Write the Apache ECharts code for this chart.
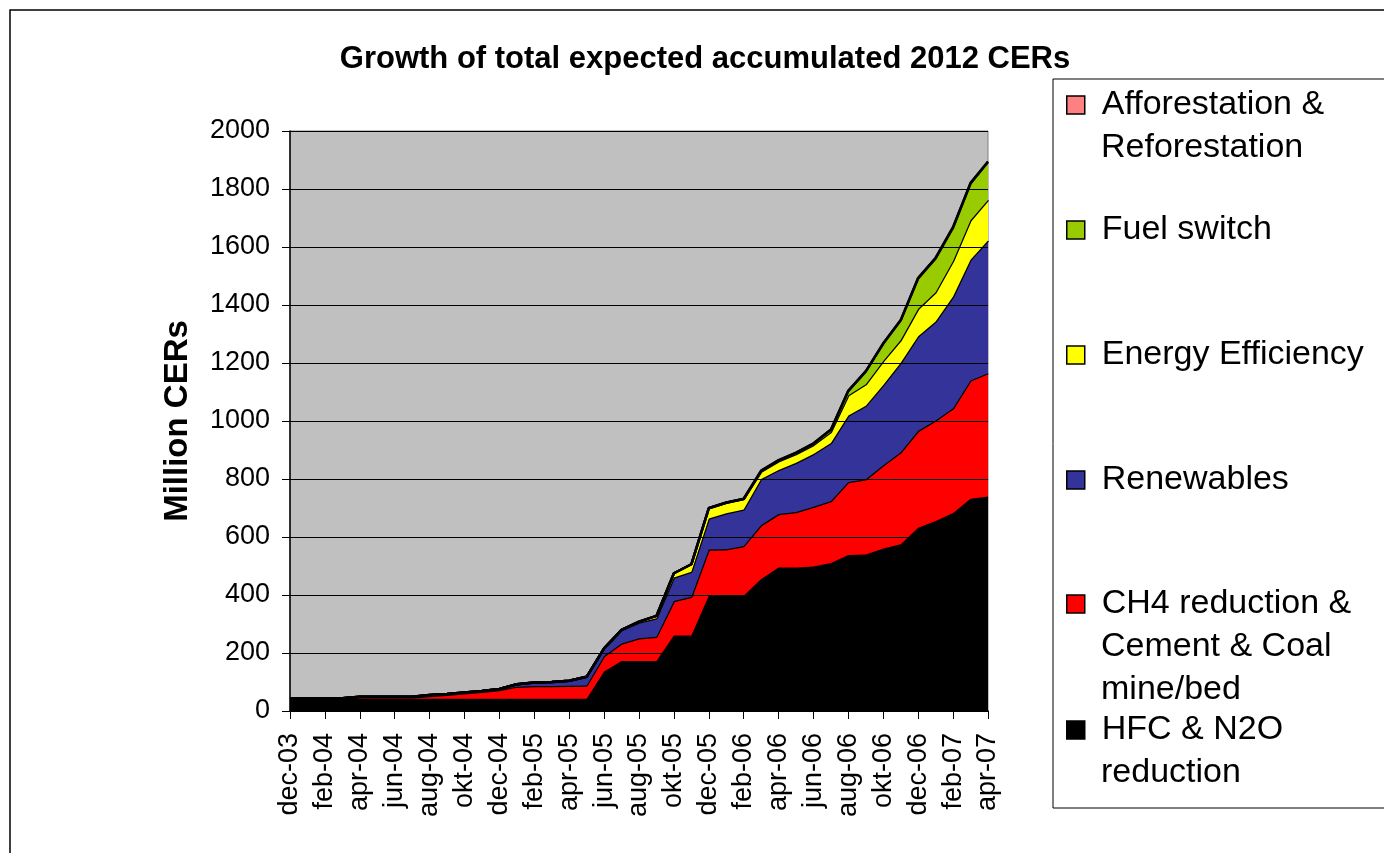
<!DOCTYPE html>
<html>
<head>
<meta charset="utf-8">
<script src="https://cdn.jsdelivr.net/npm/echarts@6/dist/echarts.min.js"></script>
<style>
html,body{margin:0;padding:0;background:#fff;}
#c{width:1384px;height:853px;}
</style>
</head>
<body>
<div id="c"></div>
<script>
var categories = ['dec-03','jan-04','feb-04','mar-04','apr-04','maj-04','jun-04','jul-04','aug-04','sep-04','okt-04','nov-04',
  'dec-04','jan-05','feb-05','mar-05','apr-05','maj-05','jun-05','jul-05','aug-05','sep-05','okt-05','nov-05',
  'dec-05','jan-06','feb-06','mar-06','apr-06','maj-06','jun-06','jul-06','aug-06','sep-06','okt-06','nov-06',
  'dec-06','jan-07','feb-07','mar-07','apr-07'];

var hfcN2o = [42,42,42,42,42,42,42,42,42,42,42,42,42,42,42,42,42,42,136,172,172,172,260,260,397,397,397,455,495,495,498,510,538,540,560,575,632,655,683,732,740];
var ch4Cement = [2,2,2,2,5,5,5,5,10,14,19,24,30,42,44,44,45,46,54,61,79,84,119,134,160,161,172,186,184,191,206,214,252,259,287,317,334,347,361,408,425];
var renewables = [0,0,0,0,2,2,2,2,3,3,3,3,4,8,12,14,17,30,26,46,54,64,81,86,107,124,126,159,152,170,182,200,229,254,277,309,326,341,385,416,457];
var energyEff = [0,0,0,0,0,0,0,0,0,0,0,0,0,0,0,0,0,0,0,1,3,8,15,26,35,36,36,25,30,30,31,38,70,74,83,78,95,101,123,136,140];
var fuelSwitch = [0,0,0,0,0,0,0,0,0,0,0,0,0,0,0,0,0,0,0,0,0,0,0,0,0,0,0,3,3,4,5,8,15,44,60,68,105,117,115,127,131];
var afforest = [0,0,0,0,0,0,0,0,0,0,0,0,0,0,0,0,0,0,0,0,0,0,0,0,1,1,1,1,1,1,1,1,1,1,1,1,2,2,2,2,2];

var yTicks = [0,200,400,600,800,1000,1200,1400,1600,1800,2000];

var seriesNames = ['HFC & N2O reduction','CH4 reduction & Cement & Coal mine/bed','Renewables','Energy Efficiency','Fuel switch','Afforestation & Reforestation'];
var seriesColors = ['#000000','#FF0000','#333399','#FFFF00','#99CC00','#FF8080'];
var seriesData = [hfcN2o, ch4Cement, renewables, energyEff, fuelSwitch, afforest];

// legend entries, top to bottom: [series index, first line, continuation lines]
var legendItems = [
  [5, 'Afforestation &', ['Reforestation']],
  [4, 'Fuel switch', []],
  [3, 'Energy Efficiency', []],
  [2, 'Renewables', []],
  [1, 'CH4 reduction &', ['Cement & Coal', 'mine/bed']],
  [0, 'HFC & N2O', ['reduction']]
];
var legendCenters = [105, 230, 355, 480, 604, 730];
var lineStep = 43;

var FONT = "'Liberation Sans', Arial, Helvetica, sans-serif";

var chart = echarts.init(document.getElementById('c'), null, {renderer: 'canvas'});

var series = seriesData.map(function (d, i) {
  return {
    name: seriesNames[i],
    type: 'line',
    stack: 'total',
    data: d,
    symbol: 'none',
    smooth: false,
    itemStyle: {color: seriesColors[i]},
    lineStyle: {color: '#000', width: 2.5},
    areaStyle: {color: seriesColors[i], opacity: 1},
    z: 2 + i
  };
});

var legends = legendItems.map(function (it, k) {
  var first = it[1];
  return {
    left: 1066,
    top: legendCenters[k] - 22,
    orient: 'vertical',
    padding: 0,
    itemGap: 0,
    itemWidth: 18,
    itemHeight: 18,
    icon: 'rect',
    selectedMode: false,
    data: [seriesNames[it[0]]],
    formatter: function () { return first; },
    itemStyle: {borderColor: '#000', borderWidth: 1.5},
    textStyle: {fontFamily: FONT, fontSize: 34, color: '#000', lineHeight: 44, padding: [0, 0, 0, 12]}
  };
});

var graphics = [
  {type: 'rect', shape: {x: 10, y: 10, width: 1420, height: 900}, style: {fill: 'none', stroke: '#000', lineWidth: 1.5}, z: 0, silent: true},
  {type: 'rect', shape: {x: 1053, y: 79, width: 400, height: 729}, style: {fill: '#fff', stroke: '#000', lineWidth: 1}, z: 0, silent: true}
];
legendItems.forEach(function (it, k) {
  it[2].forEach(function (txt, j) {
    graphics.push({
      type: 'text',
      left: 1101,
      top: legendCenters[k] + (j + 1) * lineStep - 22,
      style: {text: txt, font: '34px ' + FONT, fill: '#000', lineHeight: 44},
      z: 10,
      silent: true
    });
  });
});

chart.setOption({
  backgroundColor: '#fff',
  animation: false,
  title: {
    text: 'Growth of total expected accumulated 2012 CERs',
    left: 705,
    textAlign: 'center',
    top: 44,
    padding: 0,
    textStyle: {fontFamily: FONT, fontSize: 31, fontWeight: 'bold', color: '#000'}
  },
  legend: legends,
  graphic: graphics,
  grid: {
    left: 290, right: 396, top: 131, bottom: 142,
    show: true, backgroundColor: '#C0C0C0', borderColor: '#808080', borderWidth: 1,
    containLabel: false
  },
  xAxis: {
    type: 'category',
    data: categories,
    boundaryGap: false,
    axisLine: {show: true, lineStyle: {color: '#000', width: 1.5}},
    axisTick: {show: true, interval: 1, length: 8, lineStyle: {color: '#000', width: 1}},
    axisLabel: {interval: 1, rotate: 90, margin: 22, fontFamily: FONT, fontSize: 27, color: '#000'},
    splitLine: {show: false},
    z: 20
  },
  yAxis: {
    type: 'value',
    min: yTicks[0],
    max: yTicks[yTicks.length - 1],
    interval: 200,
    name: 'Million CERs',
    nameLocation: 'middle',
    nameGap: 96,
    nameRotate: 90,
    nameTextStyle: {fontFamily: FONT, fontSize: 33, fontWeight: 'bold', color: '#000'},
    axisLine: {show: true, lineStyle: {color: '#000', width: 1.5}},
    axisTick: {show: true, length: 8, lineStyle: {color: '#000'}},
    axisLabel: {margin: 20, fontFamily: FONT, fontSize: 27, color: '#000', formatter: function (v) { return String(v); }},
    splitLine: {show: true, lineStyle: {color: '#000', width: 1}},
    z: 20
  },
  series: series
});
</script>
</body>
</html>
